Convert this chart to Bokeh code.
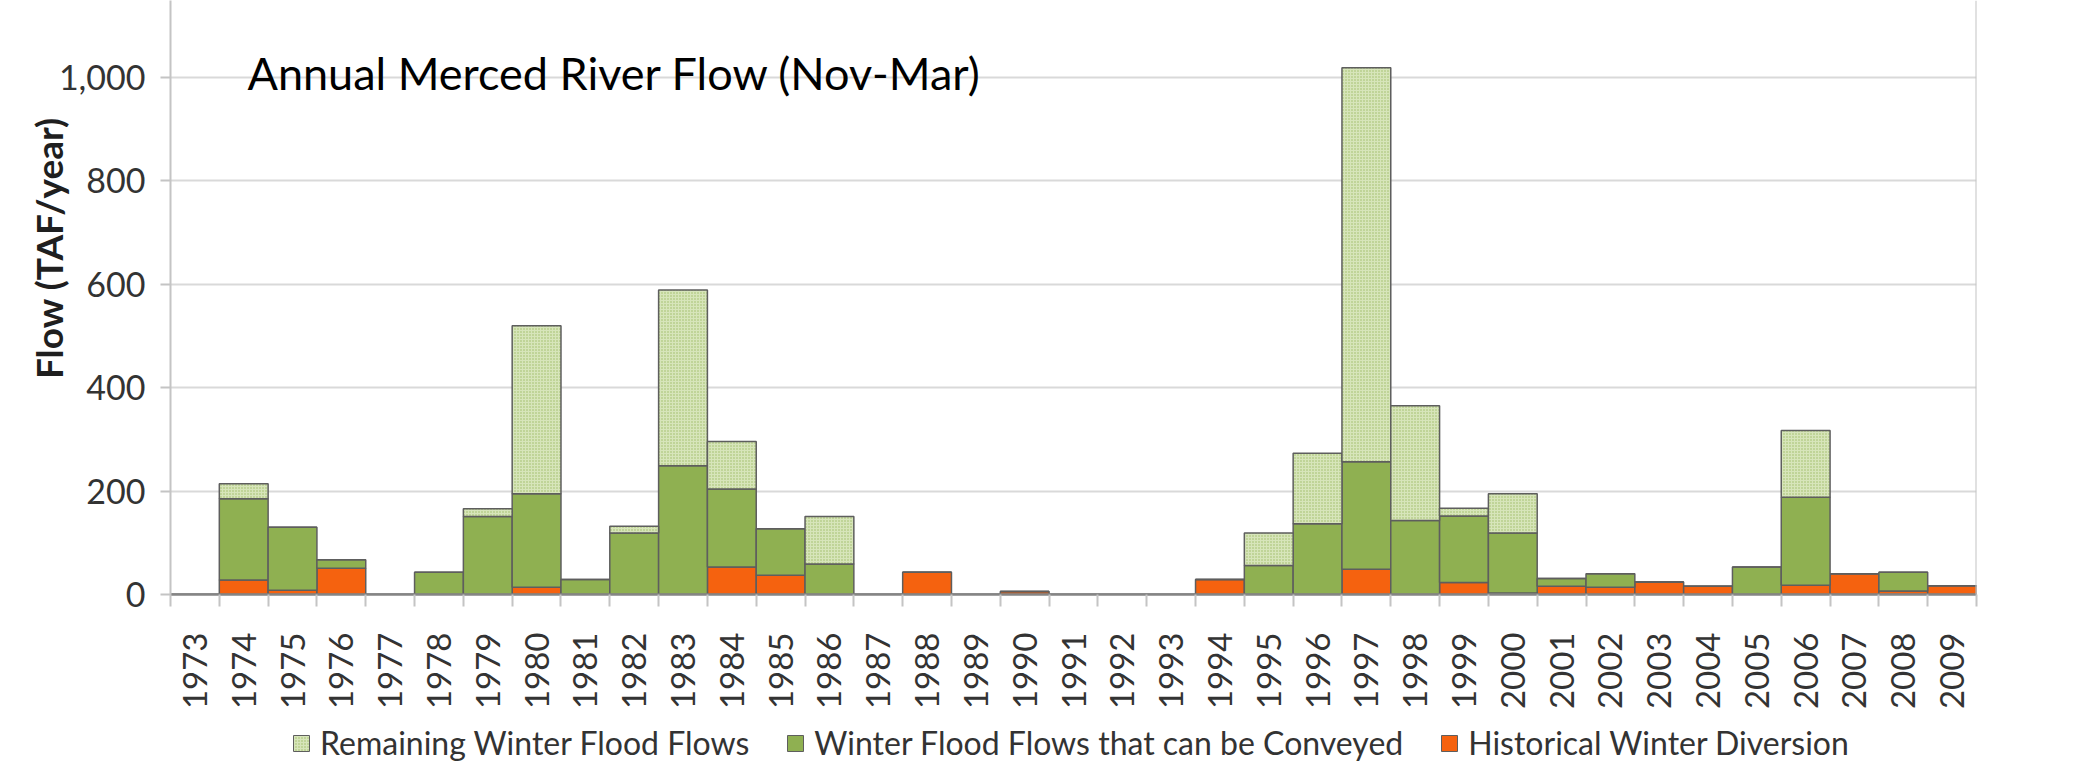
from math import pi
import numpy as np
from bokeh.plotting import figure
from bokeh.layouts import column
from bokeh.models import (Range1d, FixedTicker, Label, Legend, LegendItem, Span,
                          NumeralTickFormatter, ColumnDataSource)
from bokeh.embed import file_html
from bokeh.resources import INLINE

# ---------------- data (TAF/year) ----------------
years = ["1973", "1974", "1975", "1976", "1977", "1978", "1979", "1980", "1981", "1982",
         "1983", "1984", "1985", "1986", "1987", "1988", "1989", "1990", "1991", "1992",
         "1993", "1994", "1995", "1996", "1997", "1998", "1999", "2000", "2001", "2002",
         "2003", "2004", "2005", "2006", "2007", "2008", "2009"]
historical = [0, 28, 8, 51, 0, 0, 0, 14, 0, 0,
              0, 53, 37, 0, 0, 43, 0, 6, 0, 0,
              0, 29, 0, 0, 49, 0, 23, 3, 16, 14,
              24, 16, 0, 18, 40, 7, 17]
conveyed = [0, 157, 122, 16, 0, 43, 151, 181, 29, 119,
            249, 151, 90, 59, 0, 0, 0, 0, 0, 0,
            0, 0, 56, 137, 208, 143, 129, 116, 15, 26,
            0, 0, 53, 170, 0, 36, 0]
remaining = [0, 29, 0, 0, 0, 0, 15, 325, 0, 13,
             340, 92, 0, 92, 0, 0, 0, 0, 0, 0,
             0, 0, 63, 136, 762, 222, 15, 76, 0, 0,
             0, 0, 0, 129, 0, 0, 0]
y_ticks = [0, 200, 400, 600, 800, 1000]

title_text = "Annual Merced River Flow (Nov-Mar)"
y_label = "Flow (TAF/year)"
series_names = ["Remaining Winter Flood Flows",
                "Winter Flood Flows that can be Conveyed",
                "Historical Winter Diversion"]

# ---------------- derived ----------------
n = len(years)
xs = [i + 0.5 for i in range(n)]
h = np.array(historical, dtype=float)
c = np.array(conveyed, dtype=float)
r = np.array(remaining, dtype=float)
src = ColumnDataSource(dict(
    x=xs,
    h0=np.zeros(n), h1=h,
    c0=h, c1=h + c,
    r0=h + c, r1=h + c + r,
))

FONT = "Lato"
TXT = "#333333"
EDGE = "#5e5e5e"
C_HIST = "#f5620f"
C_CONV = "#8fb051"
C_REM = "#d7e5ba"
REM_HATCH = dict(hatch_pattern="dot", hatch_color="#9cba64", hatch_scale=3, hatch_weight=1.3)

W = 2075
p = figure(width=W, height=715,
           x_range=Range1d(0, n), y_range=Range1d(0, 1149),
           output_backend="svg", toolbar_location=None,
           min_border_left=170, min_border_right=99,
           min_border_top=0, min_border_bottom=121)
p.outline_line_color = None
p.background_fill_color = "white"
p.border_fill_color = "white"

# bars (stacked: historical, conveyed, remaining)
rh = p.vbar(x="x", bottom="h0", top="h1", width=1.0, source=src,
            fill_color=C_HIST, line_color=EDGE, line_width=1.5)
rc = p.vbar(x="x", bottom="c0", top="c1", width=1.0, source=src,
            fill_color=C_CONV, line_color=EDGE, line_width=1.5)
rr = p.vbar(x="x", bottom="r0", top="r1", width=1.0, source=src,
            fill_color=C_REM, line_color=EDGE, line_width=1.5, **REM_HATCH)

# grid
p.xgrid.visible = False
p.ygrid.grid_line_color = "#d9d9d9"
p.ygrid.grid_line_width = 2

# y axis
p.yaxis.ticker = FixedTicker(ticks=y_ticks)
p.yaxis.formatter = NumeralTickFormatter(format="0,0")
p.yaxis.axis_line_color = "#c4c4c4"
p.yaxis.axis_line_width = 2
p.yaxis.major_tick_out = 10
p.yaxis.major_tick_in = 0
p.yaxis.major_tick_line_color = "#c4c4c4"
p.yaxis.major_tick_line_width = 2
p.yaxis.minor_tick_line_color = None
p.yaxis.major_label_standoff = 15
p.yaxis.major_label_text_font = FONT
p.yaxis.major_label_text_font_size = "34px"
p.yaxis.major_label_text_color = TXT
# axis title, shifted toward the top of the axis as in the original
p.yaxis.axis_label = "\u00a0" * 11 + y_label
p.yaxis.axis_label_standoff = -15
p.yaxis.axis_label_text_font = FONT
p.yaxis.axis_label_text_font_size = "37px"
p.yaxis.axis_label_text_font_style = "bold"
p.yaxis.axis_label_text_color = "#1f1f1f"

# x axis
p.xaxis.ticker = FixedTicker(ticks=xs, minor_ticks=list(range(n + 1)))
p.xaxis.major_label_overrides = {x: y for x, y in zip(xs, years)}
p.xaxis.major_label_orientation = pi / 2
p.xaxis.major_tick_line_color = None
p.xaxis.major_tick_out = 0
p.xaxis.major_tick_in = 0
p.xaxis.minor_tick_line_color = "#c4c4c4"
p.xaxis.minor_tick_line_width = 2
p.xaxis.minor_tick_out = 12
p.xaxis.minor_tick_in = 0
p.xaxis.axis_line_color = "#858585"
p.xaxis.axis_line_width = 2.5
p.xaxis.major_label_standoff = 26
p.xaxis.major_label_text_font = FONT
p.xaxis.major_label_text_font_size = "33px"
p.xaxis.major_label_text_color = TXT

# right frame line
p.add_layout(Span(location=n, dimension="height", line_color="#c4c4c4", line_width=2))

# title inside the plot area
p.add_layout(Label(x=77, y=522, x_units="screen", y_units="screen", text=title_text,
                   text_font=FONT, text_font_size="45px", text_color="black",
                   text_baseline="alphabetic", text_align="left"))

# ---------------- legend strip (same series, bars out of view) ----------------
pl = figure(width=W, height=51, x_range=p.x_range, y_range=Range1d(5000, 5001),
            output_backend="svg", toolbar_location=None,
            x_axis_type=None, y_axis_type=None, min_border=0)
pl.outline_line_color = None
pl.xgrid.visible = False
pl.ygrid.visible = False
lr = pl.vbar(x="x", bottom="r0", top="r1", width=1.0, source=src,
             fill_color=C_REM, line_color=EDGE, line_width=1, **REM_HATCH)
lc = pl.vbar(x="x", bottom="c0", top="c1", width=1.0, source=src,
             fill_color=C_CONV, line_color=EDGE, line_width=1)
lh = pl.vbar(x="x", bottom="h0", top="h1", width=1.0, source=src,
             fill_color=C_HIST, line_color=EDGE, line_width=1)
legend = Legend(items=[LegendItem(label=series_names[0], renderers=[lr]),
                       LegendItem(label=series_names[1], renderers=[lc]),
                       LegendItem(label=series_names[2], renderers=[lh])],
                orientation="horizontal", location=(121, 4),
                glyph_width=20, glyph_height=20, label_standoff=9, spacing=36,
                padding=0, margin=0, border_line_color=None, background_fill_alpha=0,
                label_text_font=FONT, label_text_font_size="32px",
                label_text_color=TXT)
pl.add_layout(legend)

open("out.html", "w").write(file_html(column(p, pl, spacing=0), INLINE))
